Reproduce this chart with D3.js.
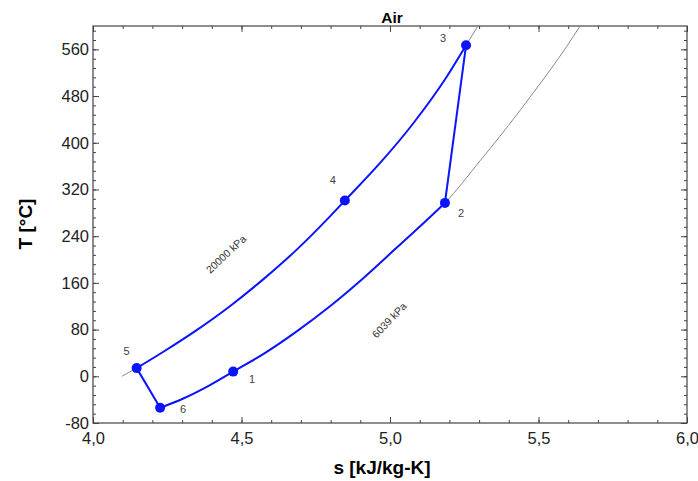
<!DOCTYPE html>
<html>
<head>
<meta charset="utf-8">
<script src="https://cdn.jsdelivr.net/npm/d3@7"></script>
<style>
  body { margin: 0; background: #fff; }
  svg { display: block; font-family: "Liberation Sans", Arial, sans-serif; }
</style>
</head>
<body>
<div id="ts-chart"></div>
<script>
// ------ Data ----------------------------- //

// State points of the cycle
const stateLabels = ["1", "2", "3", "4", "5", "6"];
const stateS = [4.472, 5.185, 5.256, 4.848, 4.147, 4.226];
const stateT = [8, 297, 567, 301, 14, -54];

// Isobar 20000 kPa, [s, T]
const highIsobar = [
  [4.097, 0], [4.147, 14], [4.237, 42], [4.349, 79], [4.461, 120],
  [4.573, 166], [4.686, 217], [4.798, 274], [4.848, 301], [4.966, 365],
  [5.078, 433], [5.191, 513], [5.256, 567], [5.296, 600]
];

// Isobar 6039 kPa, [s, T]
const lowIsobar = [
  [4.226, -54], [4.304, -38], [4.394, -15], [4.472, 8], [4.573, 38],
  [4.686, 77], [4.798, 120], [4.910, 168], [5.022, 220], [5.135, 273],
  [5.185, 297], [5.303, 369], [5.370, 411], [5.483, 486], [5.595, 565],
  [5.640, 600]
];

const isobarNames = ["20000 kPa", "6039 kPa"];

// Axis ticks
const xTicks = [4.0, 4.5, 5.0, 5.5, 6.0];
const yTicks = [-80, 0, 80, 160, 240, 320, 400, 480, 560];

const drawChart = () => {

  // ------ Create the drawing area ------- //
  const width = 698;
  const height = 481;
  const margin = {top: 26, right: 11, bottom: 58, left: 93};
  const innerWidth = width - margin.left - margin.right;
  const innerHeight = height - margin.top - margin.bottom;

  const svg = d3.select("#ts-chart")
    .append("svg")
      .attr("width", width)
      .attr("height", height)
      .attr("viewBox", [0, 0, width, height]);
  const innerChart = svg
    .append("g")
      .attr("transform", `translate(${margin.left}, ${margin.top})`);

  // ------ Scales ------- //
  const xScale = d3.scaleLinear()
    .domain([4, 6])
    .range([0, innerWidth]);
  const yScale = d3.scaleLinear()
    .domain([-80, 600])
    .range([innerHeight, 0]);

  // ------ Axes (ticks pointing inwards) ------- //
  const comma = d => d3.format(".1f")(d).replace(".", ",");
  const plain = d => String(d);
  const xMinor = d3.range(40, 61).map(d => d / 10);
  const yMinor = d3.range(-80, 601, 16);
  const axisColor = "#444";

  const addAxis = (axis, transform, cls) => {
    innerChart.append("g")
      .attr("class", cls)
      .attr("transform", transform)
      .call(axis)
      .call(g => g.select(".domain").remove())
      .call(g => g.selectAll("line").attr("stroke", axisColor));
  };

  // minor ticks on all four sides
  addAxis(d3.axisBottom(xScale).tickValues(xMinor).tickSize(-3).tickFormat(""), `translate(0, ${innerHeight})`, "minor");
  addAxis(d3.axisTop(xScale).tickValues(xMinor).tickSize(-3).tickFormat(""), "translate(0, 0)", "minor");
  addAxis(d3.axisLeft(yScale).tickValues(yMinor).tickSize(-3).tickFormat(""), "translate(0, 0)", "minor");
  addAxis(d3.axisRight(yScale).tickValues(yMinor).tickSize(-3).tickFormat(""), `translate(${innerWidth}, 0)`, "minor");

  // major ticks
  addAxis(d3.axisBottom(xScale).tickValues(xTicks).tickSize(-6).tickPadding(9).tickFormat(comma), `translate(0, ${innerHeight})`, "axis-x");
  addAxis(d3.axisTop(xScale).tickValues(xTicks).tickSize(-6).tickFormat(""), "translate(0, 0)", "major");
  addAxis(d3.axisLeft(yScale).tickValues(yTicks).tickSize(-6).tickPadding(4).tickFormat(plain), "translate(0, 0)", "axis-y");
  addAxis(d3.axisRight(yScale).tickValues(yTicks).tickSize(-6).tickFormat(""), `translate(${innerWidth}, 0)`, "major");

  svg.selectAll(".axis-x text, .axis-y text")
    .style("font-family", "'Liberation Sans', Arial, sans-serif")
    .style("font-size", "16.5px")
    .attr("fill", "#222");

  // frame
  innerChart.append("rect")
    .attr("width", innerWidth)
    .attr("height", innerHeight)
    .attr("fill", "none")
    .attr("stroke", axisColor)
    .attr("stroke-width", 1.2);

  // titles
  svg.append("text")
    .text("Air")
    .attr("x", 392)
    .attr("y", 22.5)
    .attr("text-anchor", "middle")
    .attr("font-weight", "bold")
    .attr("font-size", 15.5);
  svg.append("text")
    .text("s [kJ/kg-K]")
    .attr("x", 382)
    .attr("y", 474)
    .attr("text-anchor", "middle")
    .attr("font-weight", "bold")
    .attr("font-size", 19);
  svg.append("text")
    .text("T [°C]")
    .attr("transform", "translate(32, 224) rotate(-90)")
    .attr("text-anchor", "middle")
    .attr("font-weight", "bold")
    .attr("font-size", 19);

  // ------ Isobars ------- //
  const blue = "#0a14ff";
  const gray = "#8a8a8a";

  const lineGenerator = d3.line()
    .x(d => xScale(d[0]))
    .y(d => yScale(d[1]))
    .curve(d3.curveMonotoneX);

  [highIsobar, lowIsobar].forEach(iso => {
    innerChart.append("path")
      .attr("d", lineGenerator(iso))
      .attr("fill", "none")
      .attr("stroke", gray)
      .attr("stroke-width", 1);
  });

  // isobar names, rotated along the curves
  const nameAt = [{s: 4.45, T: 208, angle: -43}, {s: 5.0, T: 95, angle: -46}];
  isobarNames.forEach((name, i) => {
    innerChart.append("text")
      .text(name)
      .attr("transform", `translate(${xScale(nameAt[i].s)}, ${yScale(nameAt[i].T)}) rotate(${nameAt[i].angle})`)
      .attr("text-anchor", "middle")
      .attr("dominant-baseline", "middle")
      .attr("font-size", 10.5)
      .attr("fill", "#333");
  });

  // ------ Cycle (blue) ------- //
  const inRange = (iso, a, b) => iso.filter(d => d[0] >= Math.min(a, b) - 1e-6 && d[0] <= Math.max(a, b) + 1e-6);
  const lowPart = inRange(lowIsobar, stateS[5], stateS[1]);   // 6 -> 1 -> 2
  const highPart = inRange(highIsobar, stateS[4], stateS[2]); // 5 -> 4 -> 3

  [lowPart, highPart].forEach(seg => {
    innerChart.append("path")
      .attr("d", lineGenerator(seg))
      .attr("fill", "none")
      .attr("stroke", blue)
      .attr("stroke-width", 2);
  });

  // straight legs 2-3 and 5-6
  [[1, 2], [4, 5]].forEach(([a, b]) => {
    innerChart.append("line")
      .attr("x1", xScale(stateS[a]))
      .attr("y1", yScale(stateT[a]))
      .attr("x2", xScale(stateS[b]))
      .attr("y2", yScale(stateT[b]))
      .attr("stroke", blue)
      .attr("stroke-width", 2);
  });

  // state points
  innerChart.selectAll("circle.state")
    .data(stateLabels)
    .join("circle")
      .attr("class", "state")
      .attr("cx", (d, i) => xScale(stateS[i]))
      .attr("cy", (d, i) => yScale(stateT[i]))
      .attr("r", 5)
      .attr("fill", blue);

  // state labels
  const labelOffsets = [[19, 8], [16, 11], [-23, -6], [-12, -19], [-10, -16], [23, 2]];
  innerChart.selectAll("text.state")
    .data(stateLabels)
    .join("text")
      .attr("class", "state")
      .text(d => d)
      .attr("x", (d, i) => xScale(stateS[i]) + labelOffsets[i][0])
      .attr("y", (d, i) => yScale(stateT[i]) + labelOffsets[i][1])
      .attr("text-anchor", "middle")
      .attr("dominant-baseline", "middle")
      .attr("font-size", 11)
      .attr("fill", "#444");
};

drawChart();
</script>
</body>
</html>
